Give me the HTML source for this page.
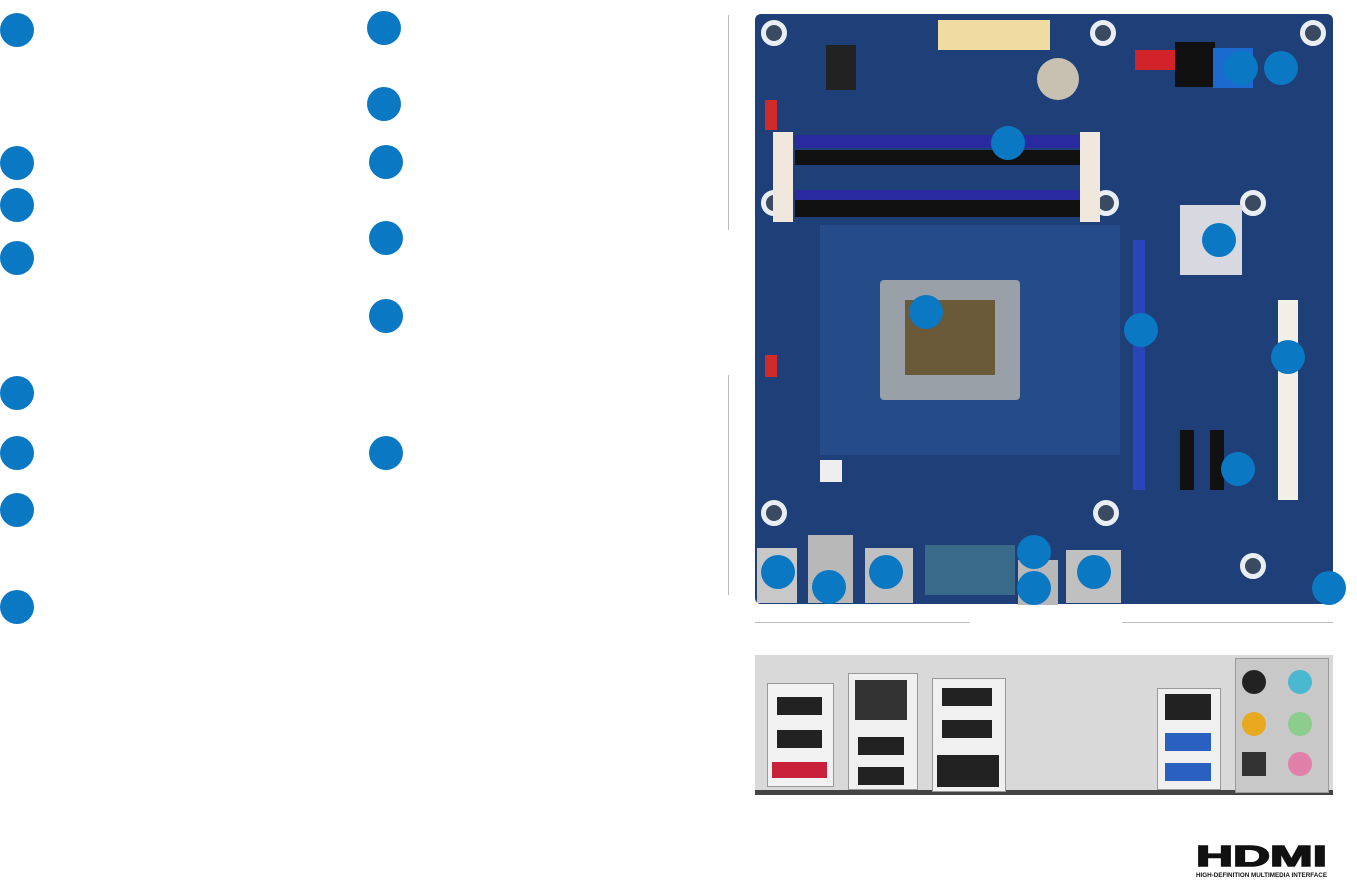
<!DOCTYPE html>
<html><head><meta charset="utf-8"><style>
html,body{margin:0;padding:0;background:#fff;}
body{width:1357px;height:882px;position:relative;overflow:hidden;font-family:"Liberation Sans",sans-serif;}
.c{position:absolute;width:34px;height:34px;border-radius:50%;background:#0a78c2;}
.a{position:absolute;}
.h{position:absolute;width:16px;height:16px;border-radius:50%;border:5px solid #e8eef4;background:#3a4a60;}
</style></head><body>
<!-- guide lines -->
<div class="a" style="left:728px;top:15px;width:1px;height:215px;background:#bbb"></div>
<div class="a" style="left:728px;top:375px;width:1px;height:220px;background:#bbb"></div>
<div class="a" style="left:755px;top:622px;width:215px;height:1px;background:#bbb"></div>
<div class="a" style="left:1122px;top:622px;width:211px;height:1px;background:#bbb"></div>

<!-- motherboard -->
<div class="a" style="left:755px;top:14px;width:578px;height:590px;background:#1f3f78;border-radius:6px"></div>
<div class="a" style="left:820px;top:225px;width:300px;height:230px;background:#2a5595;opacity:.6"></div>
<!-- mounting holes -->
<div class="h" style="left:761px;top:20px"></div>
<div class="h" style="left:1090px;top:20px"></div>
<div class="h" style="left:1300px;top:20px"></div>
<div class="h" style="left:761px;top:190px"></div>
<div class="h" style="left:1093px;top:190px"></div>
<div class="h" style="left:1240px;top:190px"></div>
<div class="h" style="left:761px;top:500px"></div>
<div class="h" style="left:1093px;top:500px"></div>
<div class="h" style="left:1240px;top:553px"></div>
<!-- dimms -->
<div class="a" style="left:795px;top:135px;width:285px;height:13px;background:#2a2aa0"></div>
<div class="a" style="left:795px;top:150px;width:285px;height:15px;background:#111"></div>
<div class="a" style="left:795px;top:190px;width:285px;height:10px;background:#2a2aa0"></div>
<div class="a" style="left:795px;top:200px;width:285px;height:17px;background:#111"></div>
<div class="a" style="left:773px;top:132px;width:20px;height:90px;background:#f0e8dc"></div>
<div class="a" style="left:1080px;top:132px;width:20px;height:90px;background:#f0e8dc"></div>
<div class="a" style="left:938px;top:20px;width:112px;height:30px;background:#f0dca0"></div>
<div class="a" style="left:826px;top:45px;width:30px;height:45px;background:#222"></div>
<div class="a" style="left:1037px;top:58px;width:42px;height:42px;border-radius:50%;background:#c8c0b0"></div>
<div class="a" style="left:1135px;top:50px;width:40px;height:20px;background:#d2232a"></div>
<div class="a" style="left:1175px;top:42px;width:40px;height:45px;background:#111"></div>
<div class="a" style="left:1213px;top:48px;width:40px;height:40px;background:#1a6ad0"></div>
<div class="a" style="left:765px;top:100px;width:12px;height:30px;background:#d02a2a"></div>
<div class="a" style="left:765px;top:355px;width:12px;height:22px;background:#d02a2a"></div>
<!-- cpu socket -->
<div class="a" style="left:880px;top:280px;width:140px;height:120px;background:#9aa0a8;border-radius:4px"></div>
<div class="a" style="left:905px;top:300px;width:90px;height:75px;background:#6a5a3a"></div>
<!-- heatsink -->
<div class="a" style="left:1180px;top:205px;width:62px;height:70px;background:#d8d8e0"></div>
<!-- pcie -->
<div class="a" style="left:1133px;top:240px;width:12px;height:250px;background:#2a45b8"></div>
<div class="a" style="left:1278px;top:300px;width:20px;height:200px;background:#f2efe6"></div>
<div class="a" style="left:1180px;top:430px;width:14px;height:60px;background:#111"></div>
<div class="a" style="left:1210px;top:430px;width:14px;height:60px;background:#111"></div>
<div class="a" style="left:820px;top:460px;width:22px;height:22px;background:#eee"></div>
<!-- rear io -->
<div class="a" style="left:757px;top:548px;width:40px;height:55px;background:#c8c8c8"></div>
<div class="a" style="left:808px;top:535px;width:45px;height:68px;background:#b8b8b8"></div>
<div class="a" style="left:865px;top:548px;width:48px;height:55px;background:#c0c0c0"></div>
<div class="a" style="left:925px;top:545px;width:90px;height:50px;background:#3a6a8a"></div>
<div class="a" style="left:1018px;top:560px;width:40px;height:45px;background:#b8b8b8"></div>
<div class="a" style="left:1066px;top:550px;width:55px;height:53px;background:#c0c0c0"></div>

<!-- io panel -->
<div class="a" style="left:755px;top:655px;width:578px;height:140px;background:#d9d9d9"></div>
<div class="a" style="left:755px;top:790px;width:578px;height:5px;background:#444"></div>
<div class="a" style="left:767px;top:683px;width:65px;height:102px;background:#f2f2f2;border:1px solid #999"></div>
<div class="a" style="left:777px;top:697px;width:45px;height:18px;background:#222"></div>
<div class="a" style="left:777px;top:730px;width:45px;height:18px;background:#222"></div>
<div class="a" style="left:772px;top:762px;width:55px;height:16px;background:#c8203a"></div>
<div class="a" style="left:848px;top:673px;width:68px;height:115px;background:#f0f0f0;border:1px solid #999"></div>
<div class="a" style="left:855px;top:680px;width:52px;height:40px;background:#333"></div>
<div class="a" style="left:858px;top:737px;width:46px;height:18px;background:#222"></div>
<div class="a" style="left:858px;top:767px;width:46px;height:18px;background:#222"></div>
<div class="a" style="left:932px;top:678px;width:72px;height:112px;background:#f0f0f0;border:1px solid #999"></div>
<div class="a" style="left:942px;top:688px;width:50px;height:18px;background:#222"></div>
<div class="a" style="left:942px;top:720px;width:50px;height:18px;background:#222"></div>
<div class="a" style="left:937px;top:755px;width:62px;height:32px;background:#222"></div>
<div class="a" style="left:1157px;top:688px;width:62px;height:100px;background:#f0f0f0;border:1px solid #999"></div>
<div class="a" style="left:1165px;top:694px;width:46px;height:26px;background:#222"></div>
<div class="a" style="left:1165px;top:733px;width:46px;height:18px;background:#2a60c0"></div>
<div class="a" style="left:1165px;top:763px;width:46px;height:18px;background:#2a60c0"></div>
<div class="a" style="left:1235px;top:658px;width:92px;height:133px;background:#c8c8c8;border:1px solid #999"></div>
<div class="a" style="left:1242px;top:670px;width:24px;height:24px;border-radius:50%;background:#222"></div>
<div class="a" style="left:1288px;top:670px;width:24px;height:24px;border-radius:50%;background:#4ab8d0"></div>
<div class="a" style="left:1242px;top:712px;width:24px;height:24px;border-radius:50%;background:#e8a820"></div>
<div class="a" style="left:1288px;top:712px;width:24px;height:24px;border-radius:50%;background:#8ccc8c"></div>
<div class="a" style="left:1242px;top:752px;width:24px;height:24px;background:#333"></div>
<div class="a" style="left:1288px;top:752px;width:24px;height:24px;border-radius:50%;background:#e080a8"></div>

<!-- HDMI logo -->
<svg class="a" style="left:1190px;top:840px" width="150" height="40">
<text x="6" y="26" textLength="131" lengthAdjust="spacingAndGlyphs" font-family="Liberation Sans" font-weight="900" font-size="29" fill="#111" stroke="#111" stroke-width="1.5">HDMI</text>
<text x="6" y="37" textLength="131" lengthAdjust="spacingAndGlyphs" font-family="Liberation Sans" font-weight="bold" font-size="6" fill="#111">HIGH-DEFINITION MULTIMEDIA INTERFACE</text>
</svg>

<!-- markers -->
<div class="c" style="left:0;top:13px"></div>
<div class="c" style="left:0;top:146px"></div>
<div class="c" style="left:0;top:188px"></div>
<div class="c" style="left:0;top:241px"></div>
<div class="c" style="left:0;top:376px"></div>
<div class="c" style="left:0;top:436px"></div>
<div class="c" style="left:0;top:493px"></div>
<div class="c" style="left:0;top:590px"></div>
<div class="c" style="left:367px;top:11px"></div>
<div class="c" style="left:367px;top:87px"></div>
<div class="c" style="left:369px;top:145px"></div>
<div class="c" style="left:369px;top:221px"></div>
<div class="c" style="left:369px;top:299px"></div>
<div class="c" style="left:369px;top:436px"></div>
<div class="c" style="left:1224px;top:51px"></div>
<div class="c" style="left:1264px;top:51px"></div>
<div class="c" style="left:991px;top:126px"></div>
<div class="c" style="left:1202px;top:223px"></div>
<div class="c" style="left:909px;top:295px"></div>
<div class="c" style="left:1124px;top:313px"></div>
<div class="c" style="left:1271px;top:340px"></div>
<div class="c" style="left:1221px;top:452px"></div>
<div class="c" style="left:761px;top:555px"></div>
<div class="c" style="left:812px;top:570px"></div>
<div class="c" style="left:869px;top:555px"></div>
<div class="c" style="left:1017px;top:535px"></div>
<div class="c" style="left:1017px;top:571px"></div>
<div class="c" style="left:1077px;top:555px"></div>
<div class="c" style="left:1312px;top:571px"></div>
</body></html>
